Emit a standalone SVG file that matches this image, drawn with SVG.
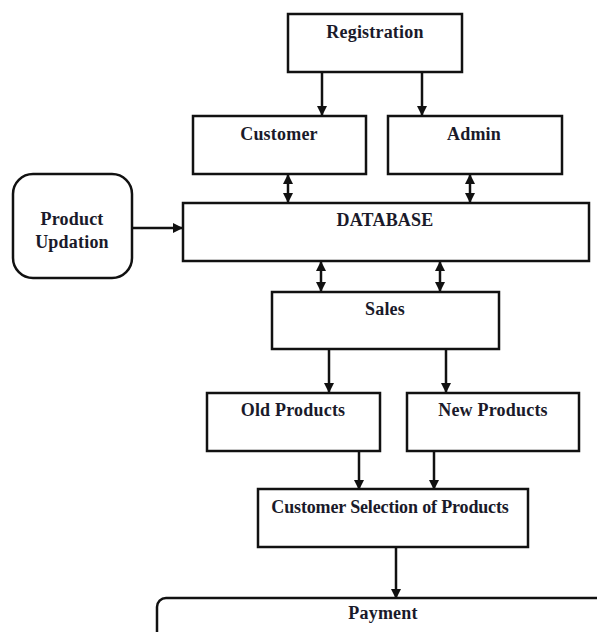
<svg xmlns="http://www.w3.org/2000/svg" width="597" height="632" viewBox="0 0 597 632">
  <style>
    .box { fill: #ffffff; stroke: #111111; stroke-width: 2.5; }
    .lbl { font-family: "Liberation Serif", "Times New Roman", serif; font-weight: bold; font-size: 18px; letter-spacing: 0.2px; fill: #1a1a2a; text-anchor: middle; }
    .tight { letter-spacing: -0.15px; }
    .wire { stroke: #111111; stroke-width: 2.5; fill: none; }
  </style>
  <defs>
    <marker id="head" viewBox="0 0 10 10" refX="9" refY="5" markerWidth="4" markerHeight="4" orient="auto-start-reverse" markerUnits="strokeWidth">
      <path d="M0,0 L10,5 L0,10 z" fill="#111111"/>
    </marker>
  </defs>
  <rect width="597" height="632" fill="#ffffff"/>

  <g id="connectors">
    <line class="wire" x1="322" y1="72" x2="322" y2="115" marker-end="url(#head)"/>
    <line class="wire" x1="422" y1="72" x2="422" y2="115" marker-end="url(#head)"/>
    <line class="wire" x1="288" y1="175" x2="288" y2="202" marker-start="url(#head)" marker-end="url(#head)"/>
    <line class="wire" x1="470" y1="175" x2="470" y2="202" marker-start="url(#head)" marker-end="url(#head)"/>
    <line class="wire" x1="132" y1="228" x2="182" y2="228" marker-end="url(#head)"/>
    <line class="wire" x1="321" y1="262" x2="321" y2="291" marker-start="url(#head)" marker-end="url(#head)"/>
    <line class="wire" x1="440" y1="262" x2="440" y2="291" marker-start="url(#head)" marker-end="url(#head)"/>
    <line class="wire" x1="329" y1="349" x2="329" y2="392" marker-end="url(#head)"/>
    <line class="wire" x1="446" y1="349" x2="446" y2="392" marker-end="url(#head)"/>
    <line class="wire" x1="359" y1="451" x2="359" y2="489" marker-end="url(#head)"/>
    <line class="wire" x1="434" y1="451" x2="434" y2="489" marker-end="url(#head)"/>
    <line class="wire" x1="396" y1="547" x2="396" y2="598" marker-end="url(#head)"/>
  </g>

  <g id="registration">
    <rect class="box" x="288" y="14" width="174" height="58"/>
    <text class="lbl" x="375" y="38">Registration</text>
  </g>
  <g id="customer">
    <rect class="box" x="193" y="116" width="173" height="58"/>
    <text class="lbl" x="279" y="140">Customer</text>
  </g>
  <g id="admin">
    <rect class="box" x="388" y="116" width="174" height="58"/>
    <text class="lbl" x="474" y="140">Admin</text>
  </g>
  <g id="product-updation">
    <rect class="box" x="13" y="174" width="119" height="104" rx="20" ry="20"/>
    <text class="lbl" x="72" y="225">Product</text>
    <text class="lbl" x="72" y="248">Updation</text>
  </g>
  <g id="database">
    <rect class="box" x="183" y="203" width="406" height="58"/>
    <text class="lbl" x="385" y="226">DATABASE</text>
  </g>
  <g id="sales">
    <rect class="box" x="272" y="292" width="227" height="57"/>
    <text class="lbl" x="385" y="315">Sales</text>
  </g>
  <g id="old-products">
    <rect class="box" x="207" y="393" width="173" height="58"/>
    <text class="lbl" x="293" y="416">Old Products</text>
  </g>
  <g id="new-products">
    <rect class="box" x="407" y="393" width="172" height="58"/>
    <text class="lbl" x="493" y="416">New Products</text>
  </g>
  <g id="customer-selection">
    <rect class="box" x="258" y="489" width="270" height="58"/>
    <text class="lbl tight" x="390" y="513">Customer Selection of Products</text>
  </g>
  <g id="payment">
    <rect class="box" x="157" y="598" width="470" height="60" rx="9" ry="9"/>
    <text class="lbl" x="383" y="619">Payment</text>
  </g>
</svg>
